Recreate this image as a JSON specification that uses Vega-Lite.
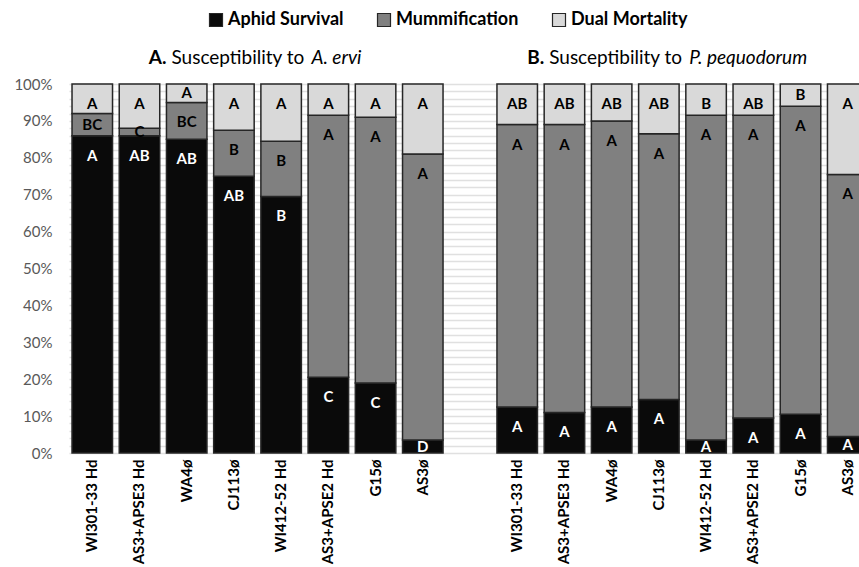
{
  "$schema": "https://vega.github.io/schema/vega-lite/v6.json",
  "autosize": {"type": "none"},
  "padding": {"left": 69, "top": 84, "right": 0, "bottom": 114},
  "width": 802,
  "height": 369,
  "background": "white",
  "config": {
    "view": {"stroke": null},
    "font": "Lato"
  },
  "datasets": {
    "titles": [
      {"slot": "A|WA4ø", "prefix": "A.", "middle": "Susceptibility to", "suffix": "A. ervi"},
      {"slot": "B|AS3+APSE3 Hd", "prefix": "B.", "middle": "Susceptibility to", "suffix": "P. pequodorum"}
    ]
  },
  "data": {
    "values": [
      {"slot": "A|WI301-33 Hd", "category": "Aphid Survival", "order": 1, "value": 86, "letter": "A"},
      {"slot": "A|WI301-33 Hd", "category": "Mummification", "order": 2, "value": 6, "letter": "BC"},
      {"slot": "A|WI301-33 Hd", "category": "Dual Mortality", "order": 3, "value": 8, "letter": "A"},
      {"slot": "A|AS3+APSE3 Hd", "category": "Aphid Survival", "order": 1, "value": 86, "letter": "AB"},
      {"slot": "A|AS3+APSE3 Hd", "category": "Mummification", "order": 2, "value": 2, "letter": "C"},
      {"slot": "A|AS3+APSE3 Hd", "category": "Dual Mortality", "order": 3, "value": 12, "letter": "A"},
      {"slot": "A|WA4ø", "category": "Aphid Survival", "order": 1, "value": 85, "letter": "AB"},
      {"slot": "A|WA4ø", "category": "Mummification", "order": 2, "value": 10, "letter": "BC"},
      {"slot": "A|WA4ø", "category": "Dual Mortality", "order": 3, "value": 5, "letter": "A"},
      {"slot": "A|CJ113ø", "category": "Aphid Survival", "order": 1, "value": 75, "letter": "AB"},
      {"slot": "A|CJ113ø", "category": "Mummification", "order": 2, "value": 12.5, "letter": "B"},
      {"slot": "A|CJ113ø", "category": "Dual Mortality", "order": 3, "value": 12.5, "letter": "A"},
      {"slot": "A|WI412-52 Hd", "category": "Aphid Survival", "order": 1, "value": 69.5, "letter": "B"},
      {"slot": "A|WI412-52 Hd", "category": "Mummification", "order": 2, "value": 15, "letter": "B"},
      {"slot": "A|WI412-52 Hd", "category": "Dual Mortality", "order": 3, "value": 15.5, "letter": "A"},
      {"slot": "A|AS3+APSE2 Hd", "category": "Aphid Survival", "order": 1, "value": 20.5, "letter": "C"},
      {"slot": "A|AS3+APSE2 Hd", "category": "Mummification", "order": 2, "value": 71, "letter": "A"},
      {"slot": "A|AS3+APSE2 Hd", "category": "Dual Mortality", "order": 3, "value": 8.5, "letter": "A"},
      {"slot": "A|G15ø", "category": "Aphid Survival", "order": 1, "value": 19, "letter": "C"},
      {"slot": "A|G15ø", "category": "Mummification", "order": 2, "value": 72, "letter": "A"},
      {"slot": "A|G15ø", "category": "Dual Mortality", "order": 3, "value": 9, "letter": "A"},
      {"slot": "A|AS3ø", "category": "Aphid Survival", "order": 1, "value": 3.5, "letter": "D"},
      {"slot": "A|AS3ø", "category": "Mummification", "order": 2, "value": 77.5, "letter": "A"},
      {"slot": "A|AS3ø", "category": "Dual Mortality", "order": 3, "value": 19, "letter": "A"},
      {"slot": "B|WI301-33 Hd", "category": "Aphid Survival", "order": 1, "value": 12.5, "letter": "A"},
      {"slot": "B|WI301-33 Hd", "category": "Mummification", "order": 2, "value": 76.5, "letter": "A"},
      {"slot": "B|WI301-33 Hd", "category": "Dual Mortality", "order": 3, "value": 11, "letter": "AB"},
      {"slot": "B|AS3+APSE3 Hd", "category": "Aphid Survival", "order": 1, "value": 11, "letter": "A"},
      {"slot": "B|AS3+APSE3 Hd", "category": "Mummification", "order": 2, "value": 78, "letter": "A"},
      {"slot": "B|AS3+APSE3 Hd", "category": "Dual Mortality", "order": 3, "value": 11, "letter": "AB"},
      {"slot": "B|WA4ø", "category": "Aphid Survival", "order": 1, "value": 12.5, "letter": "A"},
      {"slot": "B|WA4ø", "category": "Mummification", "order": 2, "value": 77.5, "letter": "A"},
      {"slot": "B|WA4ø", "category": "Dual Mortality", "order": 3, "value": 10, "letter": "AB"},
      {"slot": "B|CJ113ø", "category": "Aphid Survival", "order": 1, "value": 14.5, "letter": "A"},
      {"slot": "B|CJ113ø", "category": "Mummification", "order": 2, "value": 72, "letter": "A"},
      {"slot": "B|CJ113ø", "category": "Dual Mortality", "order": 3, "value": 13.5, "letter": "AB"},
      {"slot": "B|WI412-52 Hd", "category": "Aphid Survival", "order": 1, "value": 3.5, "letter": "A"},
      {"slot": "B|WI412-52 Hd", "category": "Mummification", "order": 2, "value": 88, "letter": "A"},
      {"slot": "B|WI412-52 Hd", "category": "Dual Mortality", "order": 3, "value": 8.5, "letter": "B"},
      {"slot": "B|AS3+APSE2 Hd", "category": "Aphid Survival", "order": 1, "value": 9.5, "letter": "A"},
      {"slot": "B|AS3+APSE2 Hd", "category": "Mummification", "order": 2, "value": 82, "letter": "A"},
      {"slot": "B|AS3+APSE2 Hd", "category": "Dual Mortality", "order": 3, "value": 8.5, "letter": "AB"},
      {"slot": "B|G15ø", "category": "Aphid Survival", "order": 1, "value": 10.5, "letter": "A"},
      {"slot": "B|G15ø", "category": "Mummification", "order": 2, "value": 83.5, "letter": "A"},
      {"slot": "B|G15ø", "category": "Dual Mortality", "order": 3, "value": 6, "letter": "B"},
      {"slot": "B|AS3ø", "category": "Aphid Survival", "order": 1, "value": 4.5, "letter": "A"},
      {"slot": "B|AS3ø", "category": "Mummification", "order": 2, "value": 71, "letter": "A"},
      {"slot": "B|AS3ø", "category": "Dual Mortality", "order": 3, "value": 24.5, "letter": "A"}
    ]
  },
  "encoding": {
    "x": {
      "field": "slot",
      "type": "nominal",
      "sort": null,
      "scale": {
        "domain": ["A|WI301-33 Hd", "A|AS3+APSE3 Hd", "A|WA4ø", "A|CJ113ø", "A|WI412-52 Hd", "A|AS3+APSE2 Hd", "A|G15ø", "A|AS3ø", "gap|", "B|WI301-33 Hd", "B|AS3+APSE3 Hd", "B|WA4ø", "B|CJ113ø", "B|WI412-52 Hd", "B|AS3+APSE2 Hd", "B|G15ø", "B|AS3ø"],
        "paddingInner": 0.142,
        "paddingOuter": 0.064
      },
      "axis": {
        "title": null,
        "labelExpr": "split(datum.value, '|')[1]",
        "labelAngle": -90,
        "labelFont": "Lato",
        "labelFontSize": 15,
        "labelFontWeight": "bold",
        "labelColor": "#000000",
        "labelPadding": 6,
        "labelOverlap": false,
        "ticks": false,
        "domain": false,
        "grid": false
      }
    }
  },
  "layer": [
    {
      "mark": {"type": "bar", "stroke": "#262626", "strokeWidth": 1.5},
      "encoding": {
        "y": {
          "field": "value",
          "type": "quantitative",
          "stack": "normalize",
          "scale": {"domain": [0, 1]},
          "axis": {
            "title": null,
            "tickCount": 100,
            "values": [0, 0.02, 0.04, 0.06, 0.08, 0.1, 0.12, 0.14, 0.16, 0.18, 0.2, 0.22, 0.24, 0.26, 0.28, 0.3, 0.32, 0.34, 0.36, 0.38, 0.4, 0.42, 0.44, 0.46, 0.48, 0.5, 0.52, 0.54, 0.56, 0.58, 0.6, 0.62, 0.64, 0.66, 0.68, 0.7, 0.72, 0.74, 0.76, 0.78, 0.8, 0.82, 0.84, 0.86, 0.88, 0.9, 0.92, 0.94, 0.96, 0.98, 1],
            "labelExpr": "abs(datum.value * 10 - round(datum.value * 10)) < 0.001 ? format(datum.value, '.0%') : ''",
            "labelOverlap": false,
            "labelFlush": false,
            "labelFont": "Lato",
            "labelFontSize": 15,
            "labelColor": "#595959",
            "labelPadding": 17,
            "ticks": false,
            "domain": false,
            "grid": true,
            "gridColor": "#e0e0e0",
            "gridWidth": 1.5
          }
        },
        "color": {
          "field": "category",
          "type": "nominal",
          "scale": {
            "domain": ["Aphid Survival", "Mummification", "Dual Mortality"],
            "range": ["#0a0a0a", "#808080", "#d9d9d9"]
          },
          "legend": {
            "title": null,
            "orient": "none",
            "direction": "horizontal",
            "legendX": 138,
            "legendY": -73,
            "symbolType": "square",
            "symbolSize": 169,
            "symbolStrokeColor": "#262626",
            "symbolStrokeWidth": 1.2,
            "symbolOpacity": 1,
            "labelFont": "Lato",
            "labelFontSize": 18,
            "labelFontWeight": "bold",
            "labelColor": "#000000",
            "labelOffset": 3,
            "columnPadding": 31
          }
        },
        "order": {"field": "order", "type": "quantitative"}
      }
    },
    {
      "transform": [
        {"stack": "value", "groupby": ["slot"], "sort": [{"field": "order", "order": "ascending"}], "as": ["y0", "y1"], "offset": "normalize"},
        {"calculate": "(datum.y1 - datum.y0) >= 0.07 ? datum.y1 - 0.054 : (datum.y0 + datum.y1) / 2", "as": "ylab"}
      ],
      "mark": {"type": "text", "font": "Lato", "fontSize": 15, "fontWeight": "bold", "baseline": "middle", "align": "center"},
      "encoding": {
        "y": {"field": "ylab", "type": "quantitative"},
        "text": {"field": "letter"},
        "color": {
          "condition": {"test": "datum.category === 'Aphid Survival'", "value": "#ffffff"},
          "value": "#000000"
        }
      }
    },
    {
      "data": {"name": "titles"},
      "mark": {"type": "text", "font": "Lato", "fontSize": 19, "fontWeight": "bold", "baseline": "middle", "align": "right", "dx": 0},
      "encoding": {
        "x": {"field": "slot", "type": "nominal", "bandPosition": 0},
        "y": {"datum": 1.07},
        "text": {"field": "prefix"}
      }
    },
    {
      "data": {"name": "titles"},
      "mark": {"type": "text", "font": "Lato", "fontSize": 19, "baseline": "middle", "align": "left", "dx": 5},
      "encoding": {
        "x": {"field": "slot", "type": "nominal", "bandPosition": 0},
        "y": {"datum": 1.07},
        "text": {"field": "middle"}
      }
    },
    {
      "data": {"name": "titles"},
      "mark": {"type": "text", "font": "Lato", "fontSize": 19, "fontStyle": "italic", "baseline": "middle", "align": "left", "dx": 145},
      "encoding": {
        "x": {"field": "slot", "type": "nominal", "bandPosition": 0},
        "y": {"datum": 1.07},
        "text": {"field": "suffix"}
      }
    }
  ]
}
